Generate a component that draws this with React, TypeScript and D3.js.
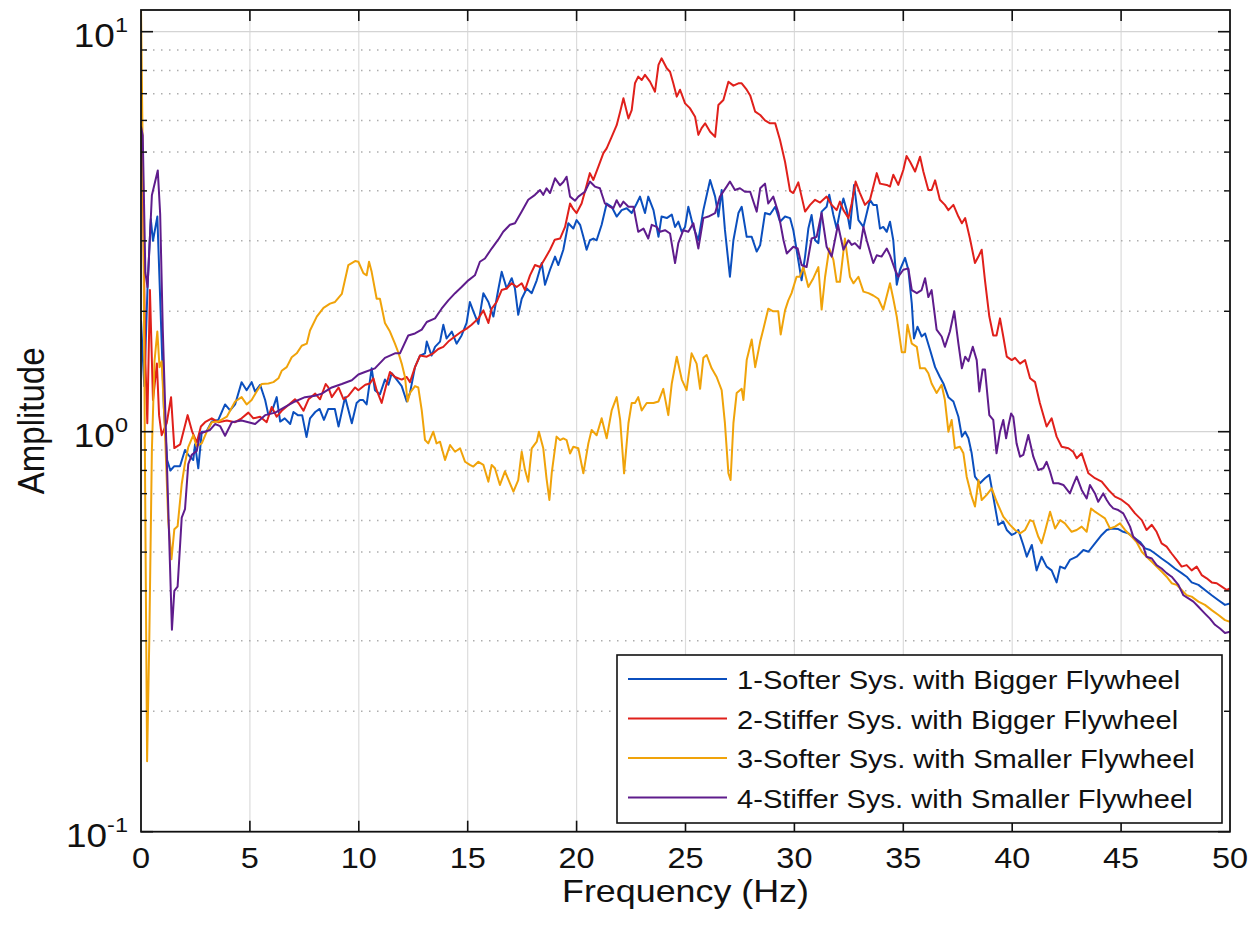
import * as d3 from 'd3';

const W = 1252;
const H = 931;
const PLOT = { left: 141, right: 1230, top: 10, bottom: 831.7 };
const SX = 1.12; // the reference text is a bit wider than tall

const xTicks = [0, 5, 10, 15, 20, 25, 30, 35, 40, 45, 50];
const yDecades = [0.1, 1, 10];
const yExponents = ['-1', '0', '1'];
const seriesNames = [
  '1-Softer Sys. with Bigger Flywheel',
  '2-Stiffer Sys. with Bigger Flywheel',
  '3-Softer Sys. with Smaller Flywheel',
  '4-Stiffer Sys. with Smaller Flywheel',
];
const seriesColors = ['#0b4fbe', '#e0201b', '#f0a30a', '#5f1c8c'];

// [frequency Hz, amplitude]
const softerBig: [number, number][] = [
  [0, 1.9], [0.15, 1.3], [0.3, 2.3], [0.45, 3.4], [0.55, 3.0], [0.75, 3.45], [0.9, 2.0], [1.05, 1.15], [1.2, 0.85], [1.35, 0.8],
  [1.53, 0.82], [1.79, 0.82], [2.02, 0.9], [2.17, 0.875], [2.4, 0.85], [2.48, 0.93], [2.63, 0.81], [2.79, 1.0], [3.0, 1.0], [3.25, 1.06],
  [3.55, 1.07], [3.86, 1.17], [4.09, 1.13], [4.32, 1.17], [4.62, 1.33], [4.85, 1.27], [5.08, 1.33], [5.24, 1.26], [5.47, 1.31], [5.7, 1.2],
  [5.85, 1.1], [6.05, 1.14], [6.23, 1.22], [6.39, 1.06], [6.6, 1.08], [6.85, 1.045], [7.0, 1.12], [7.2, 1.1], [7.4, 1.1], [7.6, 0.97],
  [7.76, 1.08], [8.0, 1.12], [8.2, 1.14], [8.4, 1.07], [8.6, 1.14], [8.9, 1.14], [9.07, 1.03], [9.37, 1.22], [9.68, 1.05], [9.9, 1.18],
  [10.05, 1.2], [10.2, 1.2], [10.36, 1.17], [10.59, 1.44], [10.74, 1.27], [10.97, 1.24], [11.2, 1.35], [11.36, 1.31], [11.51, 1.4], [11.74, 1.35],
  [11.97, 1.3], [12.2, 1.19], [12.35, 1.25], [12.58, 1.45], [12.81, 1.55], [13.04, 1.57], [13.12, 1.68], [13.34, 1.55], [13.5, 1.63], [13.73, 1.68],
  [13.88, 1.85], [14.03, 1.71], [14.27, 1.78], [14.49, 1.66], [14.72, 1.74], [14.95, 1.87], [15.1, 2.11], [15.26, 2.0], [15.49, 1.86], [15.72, 2.22],
  [15.95, 2.11], [16.18, 1.94], [16.4, 2.26], [16.56, 2.51], [16.79, 2.28], [17.02, 2.42], [17.17, 2.28], [17.32, 1.96], [17.48, 2.15], [17.71, 2.28],
  [17.94, 2.22], [18.17, 2.39], [18.4, 2.64], [18.55, 2.33], [18.78, 2.54], [19.01, 2.74], [19.16, 2.61], [19.39, 2.85], [19.62, 3.32], [19.85, 3.22],
  [20.0, 3.38], [20.16, 3.29], [20.31, 3.07], [20.46, 2.85], [20.61, 3.01], [20.77, 3.04], [20.92, 3.01], [21.15, 3.29], [21.38, 3.72], [21.61, 3.65],
  [21.84, 3.45], [22.07, 3.58], [22.3, 3.62], [22.53, 3.52], [22.76, 3.72], [22.91, 3.87], [23.14, 3.52], [23.29, 3.87], [23.53, 3.58], [23.76, 3.07],
  [23.9, 3.45], [24.14, 3.42], [24.37, 3.49], [24.52, 3.25], [24.67, 3.35], [24.83, 3.16], [24.98, 3.25], [25.13, 3.65], [25.36, 3.25], [25.59, 3.01],
  [25.82, 3.58], [26.13, 4.26], [26.36, 3.87], [26.51, 3.45], [26.66, 4.02], [26.81, 3.2], [27.04, 2.44], [27.2, 3.01], [27.43, 3.52], [27.58, 3.65],
  [27.81, 3.07], [28.04, 3.07], [28.27, 2.82], [28.43, 2.93], [28.65, 3.52], [28.88, 3.49], [29.12, 3.65], [29.34, 3.35], [29.57, 3.45], [29.8, 3.42],
  [29.95, 3.19], [30.1, 2.85], [30.33, 2.39], [30.49, 2.74], [30.64, 3.22], [30.79, 3.48], [30.95, 3.01], [31.1, 2.96], [31.25, 3.55], [31.48, 3.65],
  [31.6, 3.91], [31.79, 3.48], [31.94, 3.22], [32.09, 3.55], [32.25, 3.83], [32.4, 3.58], [32.55, 3.22], [32.74, 4.14], [32.94, 3.38], [33.17, 3.25],
  [33.47, 3.8], [33.62, 3.69], [33.78, 3.69], [33.93, 3.22], [34.08, 3.25], [34.24, 3.16], [34.39, 3.35], [34.54, 3.01], [34.7, 2.33], [34.85, 2.54],
  [35.08, 2.72], [35.23, 2.54], [35.39, 2.09], [35.49, 1.71], [35.65, 1.83], [35.84, 1.73], [36.0, 1.76], [36.23, 1.6], [36.46, 1.45], [36.68, 1.37],
  [36.84, 1.32], [37.07, 1.22], [37.3, 1.19], [37.53, 1.09], [37.69, 0.972], [37.84, 1.0], [37.99, 0.963], [38.14, 0.883], [38.29, 0.772], [38.52, 0.743],
  [38.75, 0.765], [38.95, 0.78], [39.13, 0.688], [39.36, 0.585], [39.59, 0.596], [39.75, 0.568], [39.98, 0.552], [40.13, 0.557], [40.28, 0.568], [40.51, 0.521],
  [40.67, 0.487], [40.9, 0.521], [41.12, 0.45], [41.35, 0.487], [41.58, 0.46], [41.81, 0.45], [42.04, 0.42], [42.2, 0.46], [42.42, 0.455], [42.65, 0.478],
  [42.96, 0.487], [43.27, 0.506], [43.5, 0.501], [43.8, 0.526], [44.11, 0.552], [44.34, 0.568], [44.57, 0.573], [44.87, 0.571], [45.1, 0.562], [45.33, 0.557],
  [45.64, 0.541], [45.87, 0.53], [46.1, 0.511], [46.33, 0.506], [46.56, 0.496], [46.86, 0.482], [47.17, 0.469], [47.47, 0.455], [47.78, 0.443], [48.01, 0.434],
  [48.24, 0.42], [48.55, 0.414], [48.85, 0.402], [49.16, 0.39], [49.47, 0.379], [49.77, 0.369], [50.0, 0.372],
];

const stifferBig: [number, number][] = [
  [0, 5.7], [0.1, 3.5], [0.2, 1.5], [0.29, 1.05], [0.41, 2.26], [0.55, 1.2], [0.73, 1.48], [0.83, 1.1], [0.95, 0.98], [1.18, 1.05],
  [1.38, 1.22], [1.53, 0.91], [1.8, 0.93], [2.14, 1.1], [2.35, 1.0], [2.56, 0.94], [2.75, 1.03], [2.94, 1.056], [3.25, 1.08], [3.55, 1.056],
  [3.94, 1.067], [4.32, 1.056], [4.62, 1.08], [4.93, 1.116], [5.16, 1.08], [5.47, 1.09], [5.77, 1.056], [6.0, 1.153], [6.23, 1.09], [6.46, 1.128],
  [6.77, 1.166], [7.07, 1.205], [7.23, 1.18], [7.46, 1.128], [7.69, 1.205], [8.0, 1.245], [8.22, 1.205], [8.48, 1.316], [8.6, 1.29], [8.76, 1.22],
  [9.07, 1.29], [9.3, 1.205], [9.53, 1.23], [9.83, 1.29], [9.98, 1.27], [10.3, 1.31], [10.51, 1.32], [10.67, 1.36], [10.82, 1.27], [11.05, 1.18],
  [11.28, 1.32], [11.43, 1.41], [11.66, 1.37], [11.97, 1.35], [12.2, 1.37], [12.35, 1.33], [12.58, 1.45], [12.81, 1.55], [13.12, 1.54], [13.42, 1.57],
  [13.65, 1.61], [13.88, 1.63], [14.11, 1.68], [14.41, 1.73], [14.72, 1.78], [14.95, 1.81], [15.18, 1.85], [15.49, 1.92], [15.72, 2.01], [15.95, 1.87],
  [16.1, 2.03], [16.33, 2.11], [16.56, 2.26], [16.79, 2.28], [17.02, 2.35], [17.25, 2.3], [17.48, 2.35], [17.63, 2.26], [17.86, 2.46], [18.09, 2.61],
  [18.32, 2.58], [18.55, 2.71], [18.78, 2.85], [19.0, 3.02], [19.24, 3.04], [19.47, 3.25], [19.7, 3.72], [19.85, 3.6], [20.0, 3.52], [20.23, 3.72],
  [20.38, 3.98], [20.61, 4.43], [20.77, 4.26], [21.0, 4.6], [21.23, 4.97], [21.38, 5.11], [21.61, 5.46], [21.84, 5.84], [22.0, 6.31], [22.15, 6.82],
  [22.38, 6.07], [22.53, 6.37], [22.68, 7.43], [22.83, 7.72], [22.99, 7.57], [23.14, 7.8], [23.37, 7.5], [23.6, 7.08], [23.76, 8.26], [23.9, 8.58],
  [24.14, 8.1], [24.29, 7.94], [24.44, 7.43], [24.6, 6.88], [24.75, 7.16], [24.98, 6.62], [25.2, 6.44], [25.44, 6.13], [25.59, 5.52], [25.74, 5.74],
  [25.9, 5.9], [26.13, 5.62], [26.36, 5.46], [26.51, 6.56], [26.74, 6.75], [26.97, 7.5], [27.2, 7.33], [27.43, 7.43], [27.58, 7.43], [27.81, 7.16],
  [27.97, 6.93], [28.2, 6.31], [28.43, 6.19], [28.65, 6.0], [28.88, 5.9], [29.12, 5.9], [29.34, 5.36], [29.57, 4.73], [29.8, 4.0], [29.95, 3.95],
  [30.18, 4.2], [30.49, 3.55], [30.72, 3.69], [30.95, 3.8], [31.18, 3.74], [31.48, 3.87], [31.71, 3.69], [31.94, 3.58], [32.09, 3.76], [32.25, 3.58],
  [32.48, 3.42], [32.63, 3.72], [32.81, 4.22], [33.01, 3.95], [33.24, 3.69], [33.47, 3.8], [33.78, 4.43], [33.93, 4.17], [34.24, 4.14], [34.39, 4.1],
  [34.54, 4.39], [34.77, 4.14], [35.0, 4.51], [35.15, 4.89], [35.31, 4.73], [35.54, 4.47], [35.77, 4.87], [35.92, 4.47], [36.15, 4.02], [36.3, 4.02],
  [36.46, 4.25], [36.68, 3.8], [36.91, 3.69], [37.07, 3.58], [37.3, 3.69], [37.53, 3.45], [37.69, 3.32], [37.84, 3.42], [38.06, 3.04], [38.29, 2.64],
  [38.45, 2.74], [38.6, 2.85], [38.75, 2.39], [38.95, 1.94], [39.13, 1.74], [39.28, 1.74], [39.44, 1.92], [39.59, 1.73], [39.75, 1.54], [39.98, 1.51],
  [40.13, 1.53], [40.36, 1.48], [40.59, 1.51], [40.82, 1.36], [41.05, 1.33], [41.27, 1.18], [41.58, 1.03], [41.81, 1.08], [42.04, 0.972], [42.27, 0.917],
  [42.58, 0.909], [42.8, 0.891], [42.96, 0.858], [43.19, 0.883], [43.5, 0.787], [43.8, 0.765], [44.11, 0.75], [44.42, 0.715], [44.72, 0.688], [45.03, 0.675],
  [45.33, 0.656], [45.64, 0.625], [45.95, 0.601], [46.17, 0.568], [46.41, 0.585], [46.63, 0.562], [46.86, 0.526], [47.09, 0.516], [47.32, 0.496], [47.55, 0.478],
  [47.78, 0.46], [48.01, 0.464], [48.24, 0.45], [48.47, 0.46], [48.7, 0.438], [48.93, 0.43], [49.16, 0.42], [49.39, 0.418], [49.62, 0.41], [49.85, 0.402],
  [50.0, 0.406],
];

const softerSmall: [number, number][] = [
  [0, 11.5], [0.1, 4.0], [0.2, 0.6], [0.28, 0.15], [0.38, 0.3], [0.5, 0.9], [0.62, 1.5], [0.75, 1.78], [0.85, 1.45], [0.95, 1.5],
  [1.1, 1.0], [1.25, 0.6], [1.4, 0.48], [1.53, 0.57], [1.68, 0.58], [1.87, 0.74], [2.02, 0.835], [2.17, 0.915], [2.4, 0.98], [2.55, 0.92],
  [2.79, 0.935], [3.02, 1.0], [3.25, 1.056], [3.55, 1.06], [3.94, 1.09], [4.32, 1.19], [4.62, 1.22], [4.85, 1.17], [5.08, 1.2], [5.31, 1.26],
  [5.54, 1.316], [5.85, 1.32], [6.08, 1.33], [6.31, 1.36], [6.46, 1.42], [6.69, 1.45], [6.92, 1.535], [7.15, 1.57], [7.38, 1.64], [7.61, 1.66],
  [7.76, 1.79], [8.07, 1.94], [8.38, 2.04], [8.68, 2.09], [8.91, 2.11], [9.22, 2.21], [9.52, 2.61], [9.83, 2.67], [9.98, 2.66], [10.21, 2.49],
  [10.36, 2.46], [10.47, 2.66], [10.59, 2.51], [10.82, 2.15], [10.97, 2.15], [11.2, 1.87], [11.43, 1.78], [11.66, 1.66], [11.81, 1.58], [11.97, 1.48],
  [12.12, 1.37], [12.24, 1.19], [12.35, 1.25], [12.58, 1.3], [12.73, 1.29], [12.89, 1.13], [13.04, 0.953], [13.19, 0.935], [13.42, 1.0], [13.57, 0.935],
  [13.73, 0.944], [13.96, 0.85], [14.19, 0.926], [14.42, 0.891], [14.65, 0.909], [14.88, 0.841], [15.1, 0.826], [15.26, 0.818], [15.49, 0.841], [15.72, 0.826],
  [15.95, 0.75], [16.1, 0.826], [16.25, 0.81], [16.48, 0.736], [16.71, 0.796], [16.94, 0.743], [17.1, 0.708], [17.32, 0.757], [17.48, 0.891], [17.63, 0.803],
  [17.78, 0.75], [17.94, 0.909], [18.17, 0.944], [18.27, 1.0], [18.47, 0.909], [18.62, 0.763], [18.75, 0.675], [18.86, 0.79], [19.08, 0.972], [19.24, 0.953],
  [19.39, 0.962], [19.54, 0.953], [19.7, 0.882], [19.85, 0.917], [20.08, 0.909], [20.31, 0.787], [20.54, 0.935], [20.69, 1.01], [20.92, 0.98], [21.15, 1.08],
  [21.38, 0.963], [21.61, 1.13], [21.84, 1.22], [22.0, 1.07], [22.18, 0.787], [22.38, 1.05], [22.53, 1.18], [22.68, 1.18], [22.83, 1.22], [22.99, 1.13],
  [23.22, 1.18], [23.53, 1.18], [23.76, 1.19], [23.98, 1.28], [24.21, 1.1], [24.37, 1.32], [24.6, 1.54], [24.83, 1.35], [25.05, 1.27], [25.28, 1.57],
  [25.51, 1.48], [25.67, 1.28], [25.82, 1.53], [25.97, 1.555], [26.2, 1.44], [26.43, 1.37], [26.66, 1.27], [26.81, 1.05], [26.97, 0.787], [27.07, 0.757],
  [27.2, 1.05], [27.35, 1.25], [27.58, 1.28], [27.66, 1.2], [27.81, 1.51], [28.04, 1.7], [28.2, 1.45], [28.43, 1.68], [28.57, 1.8], [28.8, 2.03],
  [29.03, 2.0], [29.26, 2.0], [29.37, 1.75], [29.57, 2.01], [29.72, 2.13], [29.87, 2.22], [30.1, 2.44], [30.25, 2.44], [30.41, 2.58], [30.64, 2.3],
  [30.87, 2.42], [31.1, 2.58], [31.25, 2.02], [31.41, 2.44], [31.6, 2.87], [31.79, 2.69], [31.94, 2.37], [32.09, 2.37], [32.32, 3.04], [32.55, 2.44],
  [32.71, 2.35], [32.94, 2.44], [33.17, 2.24], [33.4, 2.22], [33.62, 2.19], [33.85, 2.15], [34.08, 2.02], [34.39, 2.35], [34.54, 2.15], [34.7, 1.94],
  [34.93, 1.58], [35.08, 1.58], [35.19, 1.85], [35.39, 1.66], [35.62, 1.63], [35.77, 1.44], [36.0, 1.44], [36.15, 1.4], [36.3, 1.32], [36.53, 1.25],
  [36.76, 1.31], [36.91, 1.2], [37.07, 1.0], [37.22, 1.07], [37.37, 0.909], [37.6, 0.917], [37.76, 0.883], [37.91, 0.772], [38.14, 0.688], [38.29, 0.65],
  [38.45, 0.757], [38.6, 0.675], [38.83, 0.695], [39.06, 0.722], [39.28, 0.67], [39.59, 0.613], [39.9, 0.585], [40.13, 0.568], [40.36, 0.557], [40.59, 0.568],
  [40.82, 0.601], [40.97, 0.596], [41.2, 0.546], [41.35, 0.526], [41.5, 0.562], [41.74, 0.631], [41.97, 0.573], [42.2, 0.601], [42.42, 0.59], [42.73, 0.562],
  [42.96, 0.568], [43.19, 0.579], [43.42, 0.562], [43.62, 0.643], [43.8, 0.631], [44.03, 0.619], [44.26, 0.607], [44.49, 0.573], [44.72, 0.579], [44.95, 0.59],
  [45.18, 0.568], [45.41, 0.552], [45.71, 0.53], [45.95, 0.501], [46.17, 0.487], [46.41, 0.473], [46.63, 0.46], [46.86, 0.447], [47.09, 0.434], [47.32, 0.418],
  [47.55, 0.414], [47.78, 0.402], [48.01, 0.39], [48.24, 0.387], [48.55, 0.376], [48.85, 0.369], [49.16, 0.358], [49.47, 0.348], [49.77, 0.338], [50.0, 0.335],
];

const stifferSmall: [number, number][] = [
  [0, 5.8], [0.08, 5.5], [0.2, 2.5], [0.3, 2.3], [0.5, 3.9], [0.77, 4.5], [0.88, 3.5], [1.0, 1.8], [1.2, 0.8], [1.42, 0.32],
  [1.53, 0.4], [1.68, 0.41], [1.87, 0.61], [2.02, 0.64], [2.17, 0.83], [2.33, 0.875], [2.56, 0.895], [2.71, 0.99], [2.94, 1.0], [3.17, 1.01],
  [3.4, 1.045], [3.63, 1.033], [3.86, 0.977], [4.17, 1.056], [4.62, 1.067], [4.93, 1.056], [5.24, 1.045], [5.7, 1.1], [6.16, 1.116], [6.62, 1.153],
  [7.07, 1.19], [7.53, 1.22], [7.99, 1.23], [8.3, 1.245], [8.76, 1.29], [9.22, 1.316], [9.68, 1.345], [9.98, 1.39], [10.28, 1.41], [10.74, 1.44],
  [11.2, 1.53], [11.66, 1.57], [11.89, 1.57], [12.27, 1.74], [12.58, 1.76], [12.89, 1.8], [13.12, 1.88], [13.5, 1.92], [13.8, 2.03], [14.11, 2.13],
  [14.42, 2.22], [14.72, 2.3], [15.03, 2.39], [15.33, 2.46], [15.56, 2.66], [15.79, 2.71], [16.1, 2.87], [16.4, 3.02], [16.63, 3.16], [16.94, 3.29],
  [17.17, 3.32], [17.48, 3.55], [17.78, 3.8], [18.09, 3.91], [18.32, 4.02], [18.47, 3.91], [18.62, 4.06], [18.78, 3.95], [19.01, 4.3], [19.24, 4.13],
  [19.39, 4.21], [19.54, 4.34], [19.7, 3.87], [19.93, 3.78], [20.08, 3.87], [20.38, 3.98], [20.61, 4.22], [20.84, 4.1], [21.07, 4.06], [21.3, 3.72],
  [21.53, 3.65], [21.69, 3.62], [21.84, 3.79], [22.0, 3.65], [22.15, 3.76], [22.38, 3.65], [22.61, 3.65], [22.83, 3.16], [23.07, 3.22], [23.29, 3.04],
  [23.45, 3.29], [23.68, 3.25], [23.83, 3.16], [24.06, 3.19], [24.29, 3.13], [24.52, 2.64], [24.67, 2.96], [24.9, 3.19], [25.13, 3.16], [25.36, 3.32],
  [25.59, 2.87], [25.82, 3.42], [26.05, 3.45], [26.36, 3.52], [26.58, 3.87], [26.89, 4.1], [27.04, 4.22], [27.27, 4.02], [27.5, 4.06], [27.73, 3.98],
  [27.97, 3.98], [28.27, 3.55], [28.43, 4.06], [28.65, 4.17], [28.8, 3.72], [29.03, 3.87], [29.27, 3.52], [29.5, 3.01], [29.65, 2.79], [29.95, 2.9],
  [30.15, 2.87], [30.33, 2.61], [30.56, 2.58], [30.79, 3.04], [31.02, 3.07], [31.25, 3.52], [31.48, 2.9], [31.71, 2.74], [32.0, 3.29], [32.25, 2.85],
  [32.48, 3.01], [32.63, 2.93], [32.78, 2.96], [33.01, 2.87], [33.17, 3.25], [33.32, 3.01], [33.62, 2.64], [33.78, 2.76], [34.0, 2.74], [34.24, 2.87],
  [34.39, 2.76], [34.62, 2.54], [34.77, 2.44], [35.0, 2.54], [35.23, 2.56], [35.39, 2.26], [35.62, 2.22], [35.84, 2.26], [36.0, 2.42], [36.15, 2.17],
  [36.3, 2.26], [36.53, 1.8], [36.76, 1.73], [36.91, 1.63], [37.14, 1.78], [37.34, 2.0], [37.53, 1.66], [37.69, 1.44], [37.84, 1.54], [37.99, 1.5],
  [38.19, 1.63], [38.37, 1.51], [38.49, 1.26], [38.64, 1.43], [38.75, 1.43], [38.95, 1.1], [39.13, 1.07], [39.28, 0.883], [39.44, 1.0], [39.59, 1.07],
  [39.72, 0.963], [39.82, 1.03], [39.95, 1.11], [40.05, 1.09], [40.2, 0.935], [40.36, 0.866], [40.51, 0.875], [40.74, 0.981], [40.97, 0.866], [41.2, 0.802],
  [41.43, 0.81], [41.58, 0.841], [41.74, 0.794], [41.89, 0.743], [42.12, 0.743], [42.35, 0.736], [42.65, 0.701], [42.8, 0.736], [42.96, 0.772], [43.19, 0.715],
  [43.42, 0.681], [43.57, 0.736], [43.8, 0.701], [43.95, 0.668], [44.18, 0.701], [44.34, 0.675], [44.49, 0.656], [44.64, 0.643], [44.87, 0.637], [45.1, 0.625],
  [45.26, 0.601], [45.41, 0.579], [45.56, 0.546], [45.79, 0.53], [46.02, 0.516], [46.17, 0.487], [46.41, 0.482], [46.63, 0.464], [46.86, 0.455], [47.09, 0.443],
  [47.32, 0.434], [47.63, 0.414], [47.86, 0.39], [48.09, 0.383], [48.32, 0.376], [48.55, 0.365], [48.85, 0.351], [49.08, 0.341], [49.31, 0.329], [49.54, 0.322],
  [49.77, 0.314], [50.0, 0.316],
];

const allSeries = [softerBig, stifferBig, softerSmall, stifferSmall];

const FONT = '"Liberation Sans", Arial, Helvetica, sans-serif';

function STxt({ x, y, size, anchor = 'middle', rotate = 0, children }: any) {
  const rot = rotate ? ` rotate(${rotate})` : '';
  return (
    <text
      transform={`translate(${x},${y}) scale(${SX},1)${rot}`}
      fontSize={size}
      textAnchor={anchor}
      fontFamily={FONT}
      fill="#111"
    >
      {children}
    </text>
  );
}

export default function App() {
  const x = d3.scaleLinear().domain([0, 50]).range([PLOT.left, PLOT.right]);
  const y = d3.scaleLog().domain([0.1, 11.33]).range([PLOT.bottom, PLOT.top]);
  const line = d3
    .line<[number, number]>()
    .x((d) => x(d[0]))
    .y((d) => y(d[1]));

  const yMax = y.domain()[1];
  const minor: number[] = [];
  yDecades.forEach((dec) => {
    for (let k = 2; k <= 9; k++) {
      const v = k * dec;
      if (v < yMax) minor.push(v);
    }
  });

  const legend = { x: 617, y: 655, w: 605, h: 168, row0: 679, rowH: 39.5 };

  return (
    <svg
      width={W}
      height={H}
      viewBox={`0 0 ${W} ${H}`}
      style={{ position: 'absolute', left: 0, top: 0, background: '#fff' }}
    >
      <defs>
        <clipPath id="plot-clip">
          <rect x={PLOT.left} y={PLOT.top} width={PLOT.right - PLOT.left} height={PLOT.bottom - PLOT.top} />
        </clipPath>
      </defs>
      <rect x={0} y={0} width={W} height={H} fill="#fff" />

      {/* grid */}
      {xTicks.slice(1, -1).map((t) => (
        <line key={'gx' + t} x1={x(t)} x2={x(t)} y1={PLOT.top} y2={PLOT.bottom} stroke="#dcdcdc" strokeWidth={1.2} />
      ))}
      {yDecades.slice(1).map((v) => (
        <line key={'gy' + v} x1={PLOT.left} x2={PLOT.right} y1={y(v)} y2={y(v)} stroke="#d4d4d4" strokeWidth={1.2} />
      ))}
      {minor.map((v) => (
        <line
          key={'gm' + v}
          x1={PLOT.left + 4}
          x2={PLOT.right}
          y1={y(v)}
          y2={y(v)}
          stroke="#adadad"
          strokeWidth={1.5}
          strokeDasharray="1.5 6.5"
        />
      ))}

      {/* series */}
      <g clipPath="url(#plot-clip)" fill="none" strokeWidth={2} strokeLinejoin="round">
        {allSeries.map((s, i) => (
          <path key={i} d={line(s) || ''} stroke={seriesColors[i]} />
        ))}
      </g>

      {/* frame and ticks */}
      <rect
        x={PLOT.left}
        y={PLOT.top}
        width={PLOT.right - PLOT.left}
        height={PLOT.bottom - PLOT.top}
        fill="none"
        stroke="#111"
        strokeWidth={1.8}
      />
      {xTicks.slice(1, -1).map((t) => (
        <g key={'tx' + t} stroke="#111" strokeWidth={1.6}>
          <line x1={x(t)} x2={x(t)} y1={PLOT.bottom} y2={PLOT.bottom - 11} />
          <line x1={x(t)} x2={x(t)} y1={PLOT.top} y2={PLOT.top + 11} />
        </g>
      ))}
      {yDecades.map((v) => (
        <g key={'ty' + v} stroke="#111" strokeWidth={1.6}>
          <line x1={PLOT.left} x2={PLOT.left + 12} y1={y(v)} y2={y(v)} />
          <line x1={PLOT.right} x2={PLOT.right - 12} y1={y(v)} y2={y(v)} />
        </g>
      ))}
      {minor.map((v) => (
        <g key={'tm' + v} stroke="#111" strokeWidth={1.4}>
          <line x1={PLOT.left} x2={PLOT.left + 6} y1={y(v)} y2={y(v)} />
          <line x1={PLOT.right} x2={PLOT.right - 6} y1={y(v)} y2={y(v)} />
        </g>
      ))}

      {/* tick labels */}
      {xTicks.map((t) => (
        <STxt key={'lx' + t} x={x(t)} y={868} size={29}>
          {t}
        </STxt>
      ))}
      {yDecades.map((v, i) => (
        <STxt key={'ly' + v} x={128} y={y(v) + 15} size={33} anchor="end">
          <tspan>10</tspan>
          <tspan dy={-15} fontSize={21}>
            {yExponents[i]}
          </tspan>
        </STxt>
      ))}

      {/* axis titles */}
      <STxt x={(PLOT.left + PLOT.right) / 2} y={902} size={32}>
        Frequency (Hz)
      </STxt>
      <STxt x={44} y={(PLOT.top + PLOT.bottom) / 2} size={33} rotate={-90}>
        Amplitude
      </STxt>

      {/* legend */}
      <rect x={legend.x} y={legend.y} width={legend.w} height={legend.h} fill="#fff" stroke="#111" strokeWidth={1.6} />
      {seriesNames.map((name, i) => {
        const ry = legend.row0 + i * legend.rowH;
        return (
          <g key={'lg' + i}>
            <line x1={628} x2={727} y1={ry} y2={ry} stroke={seriesColors[i]} strokeWidth={2} />
            <STxt x={737} y={ry + 10} size={26} anchor="start">
              {name}
            </STxt>
          </g>
        );
      })}
    </svg>
  );
}
